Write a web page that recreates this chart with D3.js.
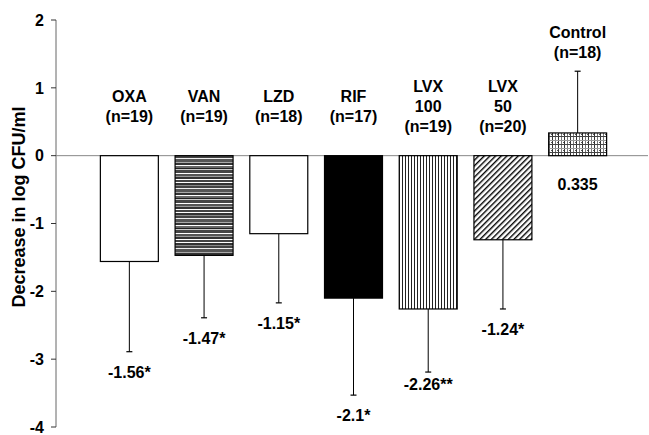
<!DOCTYPE html>
<html>
<head>
<meta charset="utf-8">
<script src="https://cdn.jsdelivr.net/npm/d3@7"></script>
<style>
  body { margin: 0; background: #fff; }
  svg text { font-family: "Liberation Sans", Arial, sans-serif; font-weight: bold; fill: #000; }
</style>
</head>
<body>
<svg width="649" height="435"></svg>
<script>
var svg = d3.select("svg"),
    width = +svg.attr("width"),
    height = +svg.attr("height");

// data
var drugs = ["OXA", "VAN", "LZD", "RIF", "LVX", "LVX", "Control"];
var doses = ["", "", "", "", "100", "50", ""];
var counts = [19, 19, 18, 17, 19, 20, 18];
var means = [-1.56, -1.47, -1.15, -2.1, -2.26, -1.24, 0.335];
var errors = [1.33, 0.92, 1.02, 1.43, 0.93, 1.02, 0.91];
var stars = ["*", "*", "*", "*", "**", "*", ""];
var yTicks = [-4, -3, -2, -1, 0, 1, 2];

var fills = ["#fff", "url(#pVan)", "#fff", "#000", "url(#pVert)", "url(#pDiag)", "url(#pPlaid)"];

var x = d3.scaleBand()
    .domain(d3.range(drugs.length))
    .range([92, 615])
    .paddingInner(0.224)
    .paddingOuter(0.112);

var y = d3.scaleLinear()
    .domain([-4, 2])
    .range([427, 20]);

// patterns
var defs = svg.append("defs");

var pv = defs.append("pattern").attr("id", "pVan")
    .attr("patternUnits", "userSpaceOnUse").attr("width", 8).attr("height", 30);
var vanStripes = [["#444", 0, 2], ["#fff", 2, 1], ["#333", 3, 2], ["#888", 5, 1], ["#444", 6, 2],
                  ["#eee", 8, 1], ["#555", 9, 3], ["#aaa", 12, 1], ["#333", 13, 2], ["#fff", 15, 1],
                  ["#666", 16, 2], ["#222", 18, 1], ["#ccc", 19, 1], ["#444", 20, 3], ["#fff", 23, 1],
                  ["#555", 24, 2], ["#999", 26, 1], ["#333", 27, 2], ["#fff", 29, 1]];
vanStripes.forEach(function(s) {
  pv.append("rect").attr("x", 0).attr("y", s[1]).attr("width", 8).attr("height", s[2]).attr("fill", s[0]);
});

var pvert = defs.append("pattern").attr("id", "pVert")
    .attr("patternUnits", "userSpaceOnUse").attr("width", 3).attr("height", 10);
pvert.append("rect").attr("width", 3).attr("height", 10).attr("fill", "#fff");
pvert.append("rect").attr("x", 0).attr("width", 1).attr("height", 10).attr("fill", "#222");

var pd = defs.append("pattern").attr("id", "pDiag")
    .attr("patternUnits", "userSpaceOnUse").attr("width", 4).attr("height", 4)
    .attr("patternTransform", "rotate(45)");
pd.append("rect").attr("width", 4).attr("height", 4).attr("fill", "#fff");
pd.append("rect").attr("width", 1.4).attr("height", 4).attr("fill", "#000");

var pp = defs.append("pattern").attr("id", "pPlaid")
    .attr("patternUnits", "userSpaceOnUse").attr("width", 6).attr("height", 8);
pp.append("rect").attr("width", 6).attr("height", 8).attr("fill", "#fff");
pp.append("rect").attr("x", 0).attr("width", 1).attr("height", 8).attr("fill", "#333");
pp.append("rect").attr("x", 3).attr("width", 1).attr("height", 8).attr("fill", "#777");
pp.append("rect").attr("y", 0).attr("width", 6).attr("height", 1).attr("fill", "#444");
pp.append("rect").attr("y", 4).attr("width", 6).attr("height", 1).attr("fill", "#999");
pp.append("rect").attr("x", 5).attr("y", 6).attr("width", 1).attr("height", 1).attr("fill", "#555");

// axis
var axisX = 56;
svg.append("line")
    .attr("x1", axisX).attr("x2", axisX)
    .attr("y1", y(2)).attr("y2", y(-4))
    .attr("stroke", "#666").attr("stroke-width", 1);

svg.selectAll(".tick").data(yTicks).enter().append("line")
    .attr("class", "tick")
    .attr("x1", axisX - 5).attr("x2", axisX)
    .attr("y1", function(d) { return y(d); }).attr("y2", function(d) { return y(d); })
    .attr("stroke", "#333");

svg.selectAll(".tickLabel").data(yTicks).enter().append("text")
    .attr("class", "tickLabel")
    .attr("x", axisX - 12)
    .attr("y", function(d) { return y(d); })
    .attr("dy", "0.36em")
    .attr("text-anchor", "end")
    .style("font-size", "16px")
    .text(function(d) { return String(d); });

svg.append("text")
    .attr("transform", "translate(25," + 207 + ") rotate(-90)")
    .attr("text-anchor", "middle")
    .style("font-size", "18px")
    .text("Decrease in log CFU/ml");

// zero line
svg.append("line")
    .attr("x1", axisX).attr("x2", 648)
    .attr("y1", y(0)).attr("y2", y(0))
    .attr("stroke", "#888").attr("stroke-width", 1);

// error bars
var idx = d3.range(drugs.length);
var errEnd = function(i) { return means[i] < 0 ? means[i] - errors[i] : means[i] + errors[i]; };

svg.selectAll(".err").data(idx).enter().append("line")
    .attr("class", "err")
    .attr("x1", function(i) { return x(i) + x.bandwidth() / 2; })
    .attr("x2", function(i) { return x(i) + x.bandwidth() / 2; })
    .attr("y1", function(i) { return y(means[i]); })
    .attr("y2", function(i) { return y(errEnd(i)); })
    .attr("stroke", "#000").attr("stroke-width", 1);

svg.selectAll(".cap").data(idx).enter().append("line")
    .attr("class", "cap")
    .attr("x1", function(i) { return x(i) + x.bandwidth() / 2 - 3; })
    .attr("x2", function(i) { return x(i) + x.bandwidth() / 2 + 3; })
    .attr("y1", function(i) { return y(errEnd(i)); })
    .attr("y2", function(i) { return y(errEnd(i)); })
    .attr("stroke", "#000").attr("stroke-width", 1.2);

// bars
svg.selectAll(".bar").data(idx).enter().append("rect")
    .attr("class", "bar")
    .attr("x", function(i) { return x(i); })
    .attr("width", x.bandwidth())
    .attr("y", function(i) { return y(Math.max(0, means[i])); })
    .attr("height", function(i) { return Math.abs(y(means[i]) - y(0)); })
    .attr("fill", function(i) { return fills[i]; })
    .attr("stroke", "#000").attr("stroke-width", 1.2);

// category labels
svg.selectAll(".cat").data(idx).enter().append("text")
    .attr("class", "cat")
    .attr("text-anchor", "middle")
    .style("font-size", "16px")
    .each(function(i) {
      var lines = [drugs[i]];
      if (doses[i]) lines.push(doses[i]);
      lines.push("(n=" + counts[i] + ")");
      var top = means[i] > 0 ? y(errEnd(i)) - 23 : y(0) - 43.5;
      var c = Math.min(y(0) - 43.5, top);
      var cx = x(i) + x.bandwidth() / 2;
      d3.select(this).selectAll("tspan").data(lines).enter().append("tspan")
        .attr("x", cx)
        .attr("y", function(d, k) { return c + (k - (lines.length - 1) / 2) * 20; })
        .text(function(d) { return d; });
    });

// value labels
svg.selectAll(".val").data(idx).enter().append("text")
    .attr("class", "val")
    .attr("text-anchor", "middle")
    .style("font-size", "16px")
    .attr("x", function(i) { return x(i) + x.bandwidth() / 2; })
    .attr("y", function(i) { return means[i] < 0 ? y(errEnd(i)) + (stars[i].length > 1 ? 18 : 26) : y(0) + 34; })
    .text(function(i) { return String(means[i]) + stars[i]; });
</script>
</body>
</html>
